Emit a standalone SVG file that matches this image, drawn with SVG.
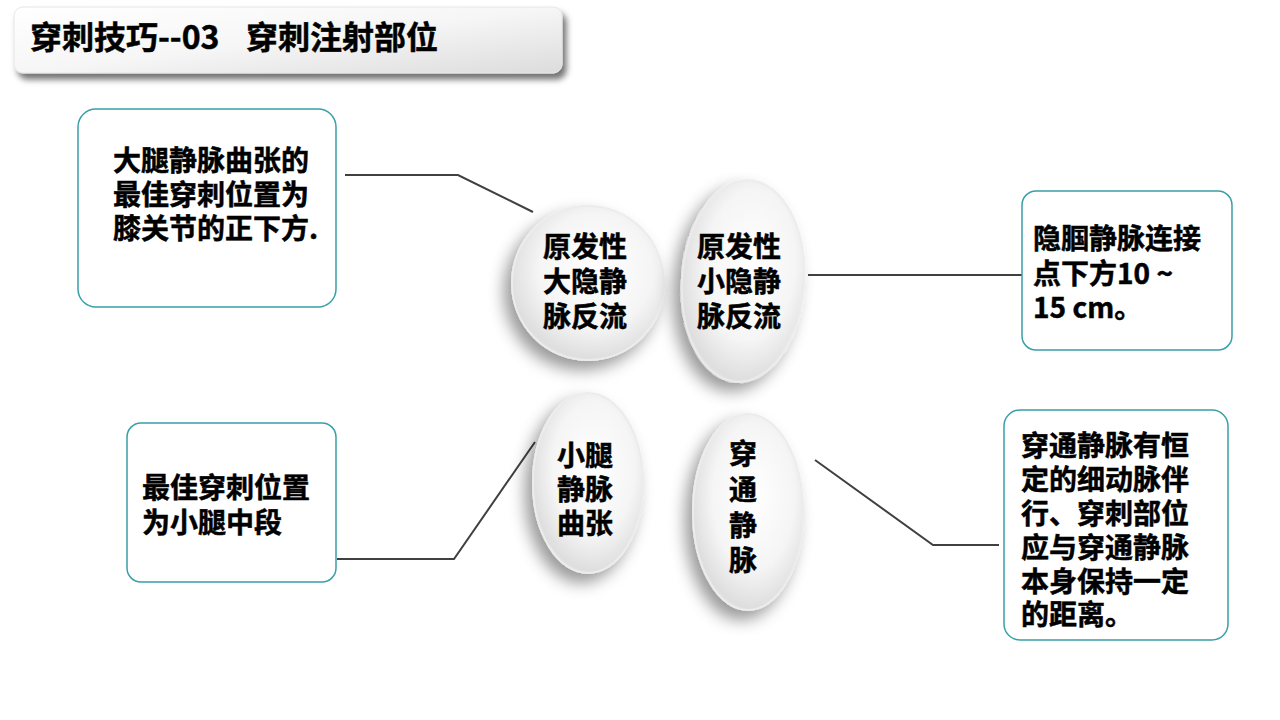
<svg xmlns="http://www.w3.org/2000/svg" width="1280" height="720" viewBox="0 0 1280 720">
<defs>
<linearGradient id="titleGrad" x1="0" y1="0" x2="1" y2="1">
<stop offset="0" stop-color="#ffffff"/>
<stop offset="0.5" stop-color="#f6f6f6"/>
<stop offset="1" stop-color="#dcdcdc"/>
</linearGradient>
<radialGradient id="ovalGrad" cx="0.55" cy="0.42" r="0.62">
<stop offset="0" stop-color="#ffffff"/>
<stop offset="0.6" stop-color="#f5f5f5"/>
<stop offset="0.92" stop-color="#dedede"/>
<stop offset="1" stop-color="#e9e9e9"/>
</radialGradient>
<filter id="titleShadow" x="-10%" y="-30%" width="120%" height="170%">
<feGaussianBlur in="SourceAlpha" stdDeviation="3"/>
<feOffset dx="4" dy="6" result="b"/>
<feFlood flood-color="#000" flood-opacity="0.55"/>
<feComposite in2="b" operator="in" result="s"/>
<feMerge><feMergeNode in="s"/><feMergeNode in="SourceGraphic"/></feMerge>
</filter>
<filter id="ovalShadow" x="-40%" y="-30%" width="170%" height="160%">
<feGaussianBlur in="SourceAlpha" stdDeviation="8"/>
<feOffset dx="-7" dy="9" result="b"/>
<feFlood flood-color="#000" flood-opacity="0.4"/>
<feComposite in2="b" operator="in" result="s"/>
<feMerge><feMergeNode in="s"/><feMergeNode in="SourceGraphic"/></feMerge>
</filter>
</defs>
<style>
.t{font-family:"Noto Sans CJK SC","Noto Sans",sans-serif;font-weight:bold;fill:#000;stroke:#000;stroke-width:0.5;}
.box{fill:#fff;stroke:#3a9fa9;stroke-width:1.5;}
.oval{fill:url(#ovalGrad);stroke:#ececec;stroke-width:2;filter:url(#ovalShadow);}
.conn{fill:none;stroke:#404040;stroke-width:2;}
.mid{text-anchor:middle;}
</style>
<rect width="1280" height="720" fill="#ffffff"/>

<g id="title">
<rect x="14" y="7" width="548" height="66" rx="9" fill="url(#titleGrad)" stroke="#e6e6e6" stroke-width="1" filter="url(#titleShadow)"/>
<text class="t" y="49" font-size="32"><tspan x="30">穿刺技巧--03</tspan><tspan x="246">穿刺注射部位</tspan></text>
</g>

<g id="connectors">
<polyline class="conn" points="345,175 458,175 533,212"/>
<polyline class="conn" points="808,275 1022,275"/>
<polyline class="conn" points="337,559 454,559 535,442"/>
<polyline class="conn" points="815,460 933,545 999,545"/>
</g>

<g id="box1">
<rect class="box" x="78" y="109" width="258" height="198" rx="18"/>
<text class="t" font-size="28"><tspan x="113" y="171">大腿静脉曲张的</tspan><tspan x="113" y="205">最佳穿刺位置为</tspan><tspan x="113" y="239">膝关节的正下方.</tspan></text>
</g>

<g id="box2">
<rect class="box" x="1022" y="191" width="210" height="159" rx="14"/>
<text class="t" font-size="28"><tspan x="1033" y="249">隐腘静脉连接</tspan><tspan x="1033" y="284">点下方10 ~</tspan><tspan x="1033" y="318">15 cm。</tspan></text>
</g>

<g id="box3">
<rect class="box" x="127" y="423" width="209" height="159" rx="14"/>
<text class="t" font-size="28"><tspan x="142" y="498">最佳穿刺位置</tspan><tspan x="142" y="533">为小腿中段</tspan></text>
</g>

<g id="box4">
<rect class="box" x="1004" y="410" width="224" height="230" rx="16"/>
<text class="t" font-size="28"><tspan x="1021" y="456">穿通静脉有恒</tspan><tspan x="1021" y="490">定的细动脉伴</tspan><tspan x="1021" y="524">行、穿刺部位</tspan><tspan x="1021" y="558">应与穿通静脉</tspan><tspan x="1021" y="592">本身保持一定</tspan><tspan x="1021" y="625">的距离。</tspan></text>
</g>

<g id="oval1">
<ellipse class="oval" cx="588" cy="283" rx="76" ry="77"/>
<text class="t mid" font-size="28"><tspan x="585" y="257">原发性</tspan><tspan x="585" y="292">大隐静</tspan><tspan x="585" y="327">脉反流</tspan></text>
</g>

<g id="oval2">
<ellipse class="oval" cx="743" cy="281" rx="61" ry="101" transform="rotate(4 743 281)"/>
<text class="t mid" font-size="28"><tspan x="739" y="257">原发性</tspan><tspan x="739" y="292">小隐静</tspan><tspan x="739" y="327">脉反流</tspan></text>
</g>

<g id="oval3">
<ellipse class="oval" cx="588" cy="483" rx="55" ry="90"/>
<text class="t mid" font-size="28"><tspan x="585" y="466">小腿</tspan><tspan x="585" y="500">静脉</tspan><tspan x="585" y="534">曲张</tspan></text>
</g>

<g id="oval4">
<ellipse class="oval" cx="748" cy="512" rx="55" ry="98"/>
<text class="t mid" font-size="28"><tspan x="743" y="464">穿</tspan><tspan x="743" y="500">通</tspan><tspan x="743" y="536">静</tspan><tspan x="743" y="571">脉</tspan></text>
</g>
</svg>
